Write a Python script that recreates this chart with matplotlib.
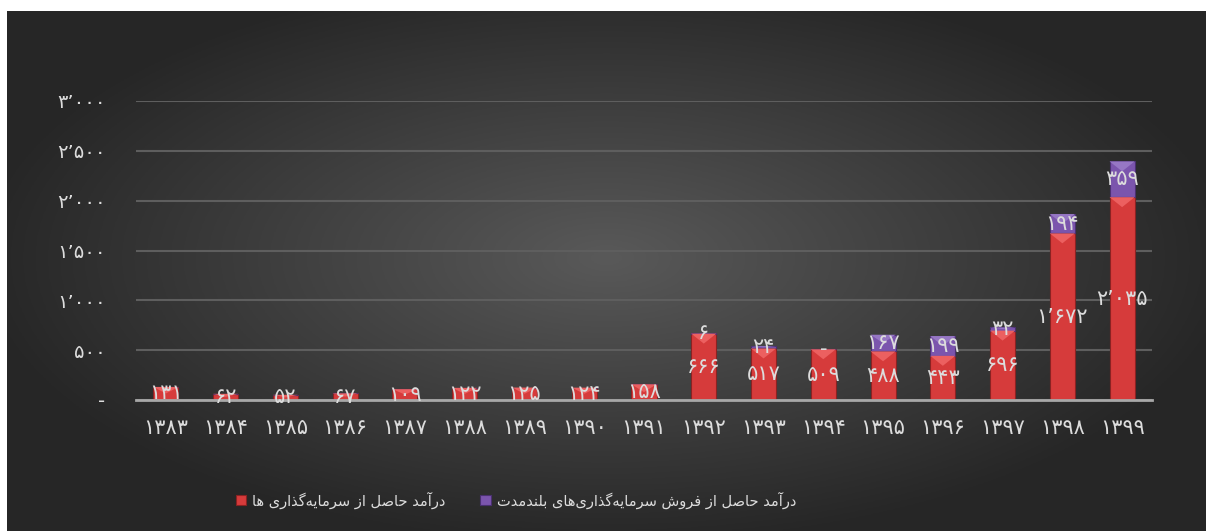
import numpy as np
import matplotlib.pyplot as plt
from matplotlib.patches import Polygon

# داده‌ها
years = ['1383', '1384', '1385', '1386', '1387', '1388', '1389', '1390', '1391',
         '1392', '1393', '1394', '1395', '1396', '1397', '1398', '1399']
invest_income = [131, 62, 52, 67, 109, 122, 125, 124, 158,
                 666, 517, 509, 488, 443, 696, 1672, 2035]
longterm_sale = [None, None, None, None, None, None, None, None, None,
                 6, 24, 0, 167, 199, 32, 194, 359]
y_ticks = [0, 500, 1000, 1500, 2000, 2500, 3000]
legend_red = 'درآمد حاصل از سرمایه‌گذاری ها'
legend_purple = 'درآمد حاصل از فروش سرمایه‌گذاری‌های بلندمدت'

FA_DIGITS = str.maketrans('0123456789,', '۰۱۲۳۴۵۶۷۸۹٬')


def fa_num(v):
    if v == 0:
        return '-'
    return f'{v:,}'.translate(FA_DIGITS)


# شکل‌دهی ساده حروف فارسی (matplotlib خودش این کار را نمی‌کند)
FORMS = {  # isolated, final, initial, medial
    'ا': ('\uFE8D', '\uFE8E', None, None),
    'آ': ('\uFE81', '\uFE82', None, None),
    'ب': ('\uFE8F', '\uFE90', '\uFE91', '\uFE92'),
    'ت': ('\uFE95', '\uFE96', '\uFE97', '\uFE98'),
    'ح': ('\uFEA1', '\uFEA2', '\uFEA3', '\uFEA4'),
    'د': ('\uFEA9', '\uFEAA', None, None),
    'ذ': ('\uFEAB', '\uFEAC', None, None),
    'ر': ('\uFEAD', '\uFEAE', None, None),
    'ز': ('\uFEAF', '\uFEB0', None, None),
    'س': ('\uFEB1', '\uFEB2', '\uFEB3', '\uFEB4'),
    'ش': ('\uFEB5', '\uFEB6', '\uFEB7', '\uFEB8'),
    'ص': ('\uFEB9', '\uFEBA', '\uFEBB', '\uFEBC'),
    'ف': ('\uFED1', '\uFED2', '\uFED3', '\uFED4'),
    'ل': ('\uFEDD', '\uFEDE', '\uFEDF', '\uFEE0'),
    'م': ('\uFEE1', '\uFEE2', '\uFEE3', '\uFEE4'),
    'ن': ('\uFEE5', '\uFEE6', '\uFEE7', '\uFEE8'),
    'ه': ('\uFEE9', '\uFEEA', '\uFEEB', '\uFEEC'),
    'و': ('\uFEED', '\uFEEE', None, None),
    'ی': ('\uFBFC', '\uFBFD', '\uFBFE', '\uFBFF'),
    'گ': ('\uFB92', '\uFB93', '\uFB94', '\uFB95'),
}


def shape(text):
    out = []
    for i, ch in enumerate(text):
        if ch not in FORMS:
            if ch != '\u200c':
                out.append(ch)
            continue
        prev = text[i - 1] if i > 0 else ''
        nxt = text[i + 1] if i + 1 < len(text) else ''
        join_prev = prev in FORMS and FORMS[prev][2] is not None
        join_next = FORMS[ch][2] is not None and nxt in FORMS
        iso, fin, ini, med = FORMS[ch]
        if join_prev and join_next:
            out.append(med)
        elif join_prev:
            out.append(fin)
        elif join_next:
            out.append(ini)
        else:
            out.append(iso)
    return ''.join(reversed(out))


red = '#d63b3b'
red_hi = '#ec6060'
purple = '#7b55ad'
purple_hi = '#9677c4'
txt = '#dcdcdc'

fig = plt.figure(figsize=(12.06, 5.31), dpi=100)
fig.patch.set_facecolor('white')

# پس‌زمینه تیره با گرادیان شعاعی
bg = fig.add_axes([7 / 1206, 0, 1199 / 1206, 520 / 531])
gx, gy = np.meshgrid(np.linspace(-1, 1, 400), np.linspace(-1, 1, 200))
r = np.sqrt((gx * 0.95) ** 2 + ((gy + 0.05) * 0.9) ** 2)
shade = np.clip(0.35 - 0.2 * r, 0.15, 0.35)
bg.imshow(np.dstack([shade] * 3), aspect='auto', extent=[0, 1, 0, 1])
bg.set_axis_off()

ax = fig.add_axes([136 / 1206, 131 / 531, 1016 / 1206, 299 / 531])
ax.set_facecolor('none')

x = np.arange(len(years))
w = 0.42
purple_vals = [v if v is not None else 0 for v in longterm_sale]
b1 = ax.bar(x, invest_income, width=w, color=red, edgecolor='#8a2222', linewidth=0.8, zorder=3)
b2 = ax.bar(x, purple_vals, width=w, bottom=invest_income, color=purple,
            edgecolor='#4a3070', linewidth=0.8, zorder=3)


# برجستگی بالای هر ستون
def bevel(bars, color):
    for p in bars:
        h = p.get_height()
        if h <= 0:
            continue
        x0, y0, bw = p.get_x(), p.get_y(), p.get_width()
        d = min(100, h * 0.5)
        top = y0 + h
        ax.add_patch(Polygon([(x0, top), (x0 + bw, top), (x0 + bw / 2, top - d)],
                             closed=True, facecolor=color, edgecolor='none', zorder=3.5))


bevel(b1, red_hi)
bevel(b2, purple_hi)

for xi, v in zip(x, invest_income):
    ax.text(xi, v / 2, fa_num(v), ha='center', va='center', color=txt, fontsize=15, zorder=5)
for xi, base, v in zip(x, invest_income, longterm_sale):
    if v is None:
        continue
    ax.text(xi, base + v / 2, fa_num(v), ha='center', va='center', color=txt, fontsize=15, zorder=5)

ax.set_xlim(-0.5, len(years) - 0.5)
ax.set_ylim(0, 3000)
ax.set_yticks(y_ticks)
ax.set_yticklabels([fa_num(t) for t in y_ticks], color=txt, fontsize=14)
ax.set_xticks(x)
ax.set_xticklabels([y.translate(FA_DIGITS) for y in years], color=txt, fontsize=15)
ax.tick_params(axis='y', length=0, pad=22)
ax.tick_params(axis='x', length=0, pad=13)
ax.grid(axis='y', color='#5e5e5e', linewidth=1.5, zorder=0)
for s in ['top', 'right', 'left']:
    ax.spines[s].set_visible(False)
ax.spines['bottom'].set_color('#a8a8a8')
ax.spines['bottom'].set_linewidth(2)
ax.spines['bottom'].set_zorder(4)

leg = fig.legend([b1, b2], [shape(legend_red), shape(legend_purple)], loc='center',
                 bbox_to_anchor=(516 / 1206, 31 / 531), ncol=2, frameon=False,
                 fontsize=10.5, labelcolor=txt, handlelength=0.7, handleheight=0.7,
                 handletextpad=0.4, columnspacing=2.4)

fig.savefig('out.png', dpi=100)
